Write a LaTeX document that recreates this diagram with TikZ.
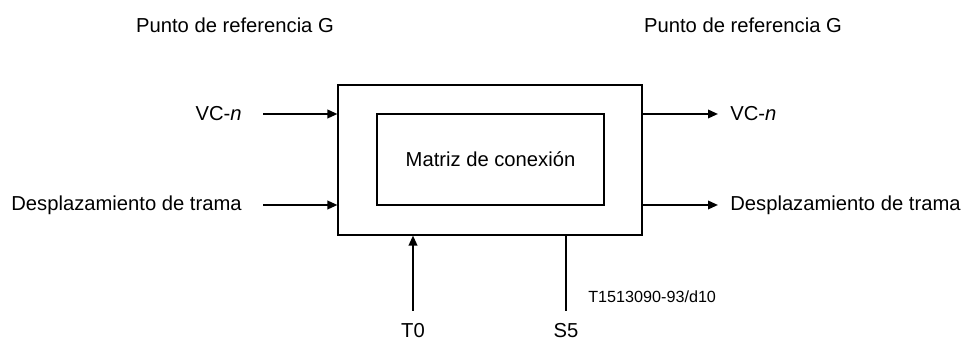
\documentclass[tikz,border=0pt]{standalone}
\usepackage{fontspec}
\setmainfont{Liberation Sans}
\usetikzlibrary{positioning,arrows.meta}

\begin{document}
\begin{tikzpicture}[
  bloque/.style={draw, line width=0.6pt, minimum width=6.08cm, minimum height=3cm},
  matriz/.style={draw, line width=0.6pt, minimum width=4.54cm, minimum height=1.82cm, font=\fontsize{11.5}{13}\selectfont},
  etiqueta/.style={inner sep=0pt, font=\fontsize{11.5}{13}\selectfont},
  arrow/.style={-{Triangle[length=0.2cm,width=0.17cm]}, line width=1.1pt},
  linea/.style={line width=1.1pt}
]
  \useasboundingbox (0,0) rectangle (19.36,6.82);

  % Bloque y matriz
  \node[bloque] (caja) at (9.8, 3.62) {};
  \node[matriz] (matriz) at (9.81, 3.63) {Matriz de conexi\'on};

  % Referencias G
  \node[etiqueta] (refizq) at (4.7, 6.32) {Punto de referencia G};
  \node[etiqueta] (refder) at (14.86, 6.32) {Punto de referencia G};

  % Entradas
  \coordinate (vcin) at (5.26, 4.54);
  \coordinate (dtin) at (5.26, 2.72);
  \node[etiqueta, left=0.42cm of vcin] (vcinlab) {VC-\textit{n}};
  \node[etiqueta, left=0.42cm of dtin] (dtinlab) {Desplazamiento de trama};
  \draw[arrow] (vcin) -- (vcin -| caja.west);
  \draw[arrow] (dtin) -- (dtin -| caja.west);

  % Salidas
  \coordinate (vcout) at (14.36, 4.54);
  \coordinate (dtout) at (14.36, 2.72);
  \node[etiqueta, right=0.24cm of vcout] (vcoutlab) {VC-\textit{n}};
  \node[etiqueta, right=0.24cm of dtout] (dtoutlab) {Desplazamiento de trama};
  \draw[arrow] (vcout -| caja.east) -- (vcout);
  \draw[arrow] (dtout -| caja.east) -- (dtout);

  % T0 y S5
  \coordinate (tcero) at (8.26, 0.6);
  \coordinate (scinco) at (11.32, 0.6);
  \node[etiqueta] (tcerolab) at (8.26, 0.2) {T0};
  \node[etiqueta] (scincolab) at (11.32, 0.2) {S5};
  \draw[arrow] (tcero) -- (tcero |- caja.south);
  \draw[linea] (caja.south -| scinco) -- (scinco);

  \node[etiqueta, anchor=west, font=\fontsize{9.2}{11}\selectfont] (codigo) at (11.76, 0.88) {T1513090-93/d10};
\end{tikzpicture}
\end{document}
